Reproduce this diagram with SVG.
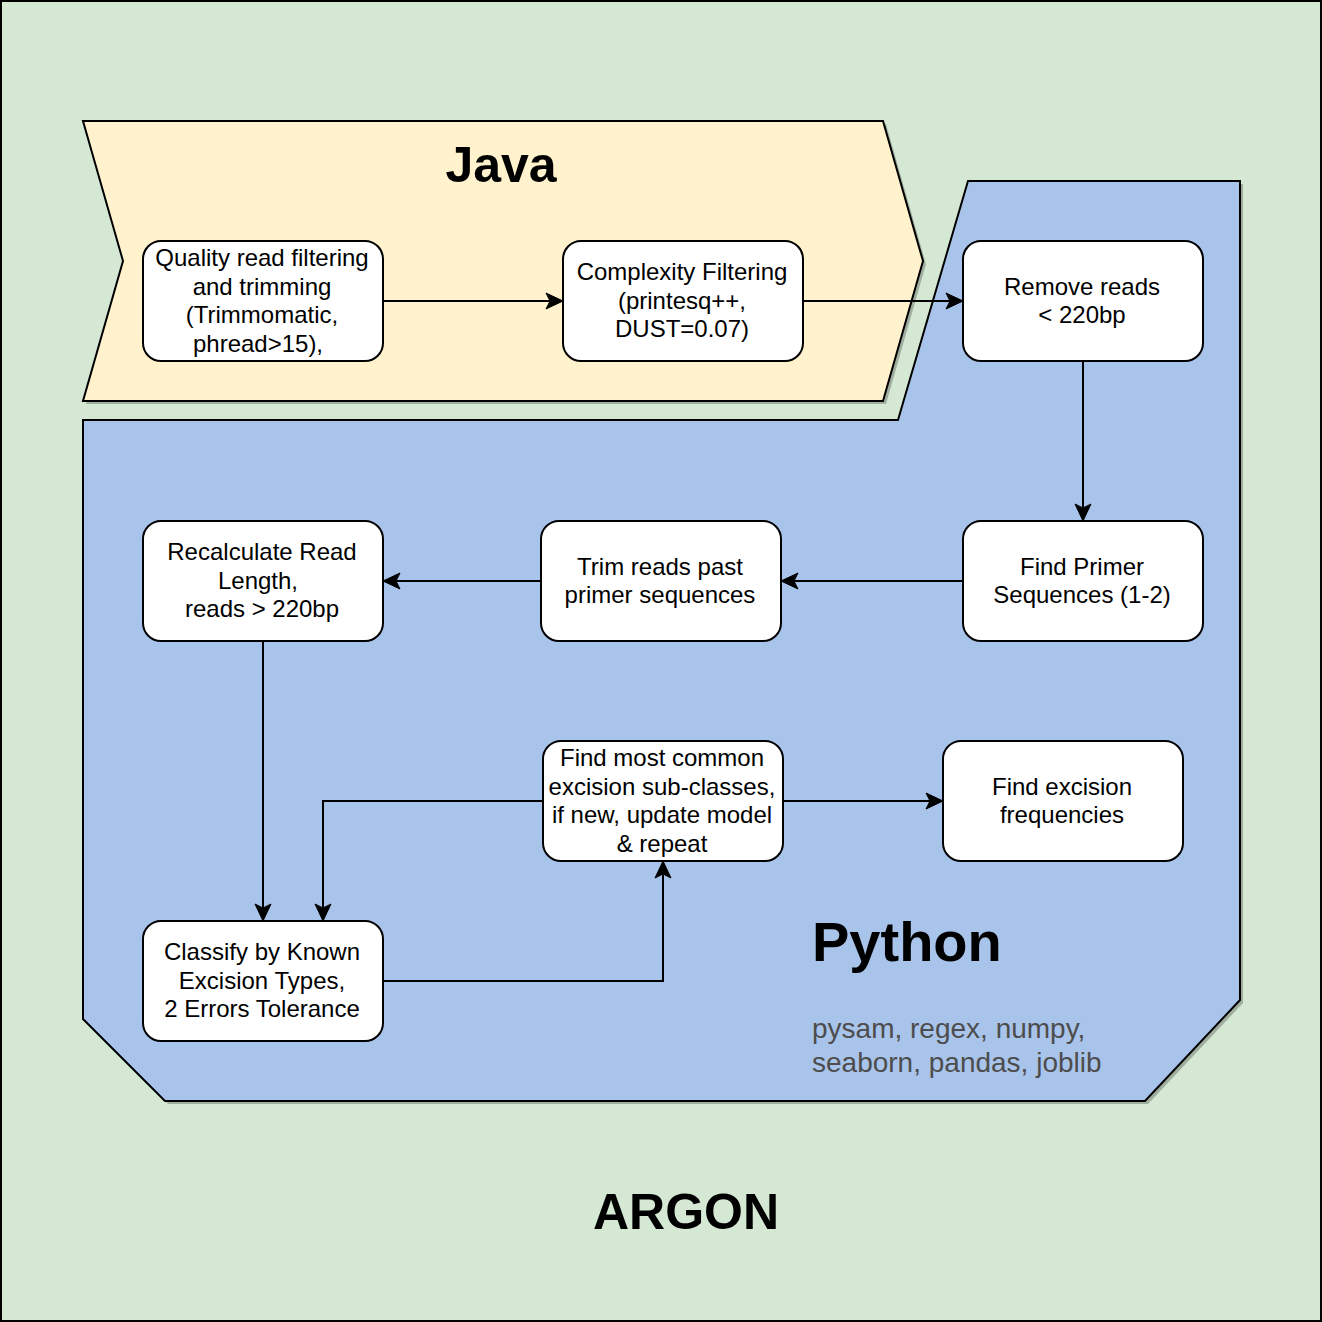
<svg xmlns="http://www.w3.org/2000/svg" width="1322" height="1322" viewBox="0 0 1322 1322">
<style>
.node rect{fill:#ffffff;stroke:#000000;stroke-width:2}
.node text{font-family:"Liberation Sans",Arial,sans-serif;font-size:24px;fill:#000000;text-anchor:middle}
.edge{fill:none;stroke:#000000;stroke-width:2}
.title{font-family:"Liberation Sans",Arial,sans-serif;font-weight:bold;fill:#000000}
.shadow{fill:#000000;fill-opacity:0.25;stroke:none}
</style>
<defs>
<marker id="arrow" markerUnits="userSpaceOnUse" markerWidth="20" markerHeight="20" viewBox="-16 -10 20 20" refX="0" refY="0" orient="auto" overflow="visible">
<path d="M4,0 L-13,-8 L-9,0 L-13,8 Z" fill="#000000" stroke="#000000" stroke-width="1" stroke-linejoin="miter"/>
</marker>
</defs>
<rect id="background" x="1" y="1" width="1320" height="1320" fill="#d5e8d4" stroke="#000000" stroke-width="2"/>
<g id="python-area">
<path class="shadow" transform="translate(3,3)" d="M968,181 H1240 V1000 L1145,1101 H165 L83,1019 V420 H898 Z"/>
<path d="M968,181 H1240 V1000 L1145,1101 H165 L83,1019 V420 H898 Z" fill="#a9c4eb" stroke="#000000" stroke-width="2"/>
<text class="title" x="812" y="961" font-size="56">Python</text>
<text x="812" y="1038" font-family="Liberation Sans,Arial,sans-serif" font-size="28" fill="#4d4d4d">pysam, regex, numpy,</text>
<text x="812" y="1072" font-family="Liberation Sans,Arial,sans-serif" font-size="28" fill="#4d4d4d">seaborn, pandas, joblib</text>
</g>
<g id="java-area">
<path class="shadow" transform="translate(3,3)" d="M83,121 H883 L923,261 L883,401 H83 L123,261 Z"/>
<path d="M83,121 H883 L923,261 L883,401 H83 L123,261 Z" fill="#fff2cc" stroke="#000000" stroke-width="2"/>
<text class="title" x="501" y="182" font-size="50" text-anchor="middle">Java</text>
</g>
<g id="connectors">
<path class="edge" d="M383,301 H559" marker-end="url(#arrow)"/>
<path class="edge" d="M803,301 H959" marker-end="url(#arrow)"/>
<path class="edge" d="M1083,361 V517" marker-end="url(#arrow)"/>
<path class="edge" d="M963,581 H785" marker-end="url(#arrow)"/>
<path class="edge" d="M541,581 H387" marker-end="url(#arrow)"/>
<path class="edge" d="M263,641 V917" marker-end="url(#arrow)"/>
<path class="edge" d="M383,981 H663 V865" marker-end="url(#arrow)"/>
<path class="edge" d="M543,801 H323 V917" marker-end="url(#arrow)"/>
<path class="edge" d="M783,801 H939" marker-end="url(#arrow)"/>
</g>
<g id="quality" class="node">
<rect x="143" y="241" width="240" height="120" rx="18" ry="18"/>
<text x="262" y="266">Quality read filtering</text>
<text x="262" y="294.5">and trimming</text>
<text x="262" y="323">(Trimmomatic,</text>
<text x="258" y="351.5">phread&gt;15),</text>
</g>
<g id="complexity" class="node">
<rect x="563" y="241" width="240" height="120" rx="18" ry="18"/>
<text x="682" y="280">Complexity Filtering</text>
<text x="682" y="308.5">(printesq++,</text>
<text x="682" y="337">DUST=0.07)</text>
</g>
<g id="remove-reads" class="node">
<rect x="963" y="241" width="240" height="120" rx="18" ry="18"/>
<text x="1082" y="294.5">Remove reads</text>
<text x="1082" y="323">&lt; 220bp</text>
</g>
<g id="find-primer" class="node">
<rect x="963" y="521" width="240" height="120" rx="18" ry="18"/>
<text x="1082" y="574.5">Find Primer</text>
<text x="1082" y="603">Sequences (1-2)</text>
</g>
<g id="trim-reads" class="node">
<rect x="541" y="521" width="240" height="120" rx="18" ry="18"/>
<text x="660" y="574.5">Trim reads past</text>
<text x="660" y="603">primer sequences</text>
</g>
<g id="recalculate" class="node">
<rect x="143" y="521" width="240" height="120" rx="18" ry="18"/>
<text x="262" y="560">Recalculate Read</text>
<text x="258" y="588.5">Length,</text>
<text x="262" y="617">reads &gt; 220bp</text>
</g>
<g id="find-common" class="node">
<rect x="543" y="741" width="240" height="120" rx="18" ry="18"/>
<text x="662" y="766">Find most common</text>
<text x="662" y="794.5">excision sub-classes,</text>
<text x="662" y="823">if new, update model</text>
<text x="662" y="851.5">&amp; repeat</text>
</g>
<g id="find-frequencies" class="node">
<rect x="943" y="741" width="240" height="120" rx="18" ry="18"/>
<text x="1062" y="794.5">Find excision</text>
<text x="1062" y="823">frequencies</text>
</g>
<g id="classify" class="node">
<rect x="143" y="921" width="240" height="120" rx="18" ry="18"/>
<text x="262" y="960">Classify by Known</text>
<text x="262" y="988.5">Excision Types,</text>
<text x="262" y="1017">2 Errors Tolerance</text>
</g>
<text id="argon" class="title" x="686" y="1229" font-size="50" text-anchor="middle">ARGON</text>
</svg>
